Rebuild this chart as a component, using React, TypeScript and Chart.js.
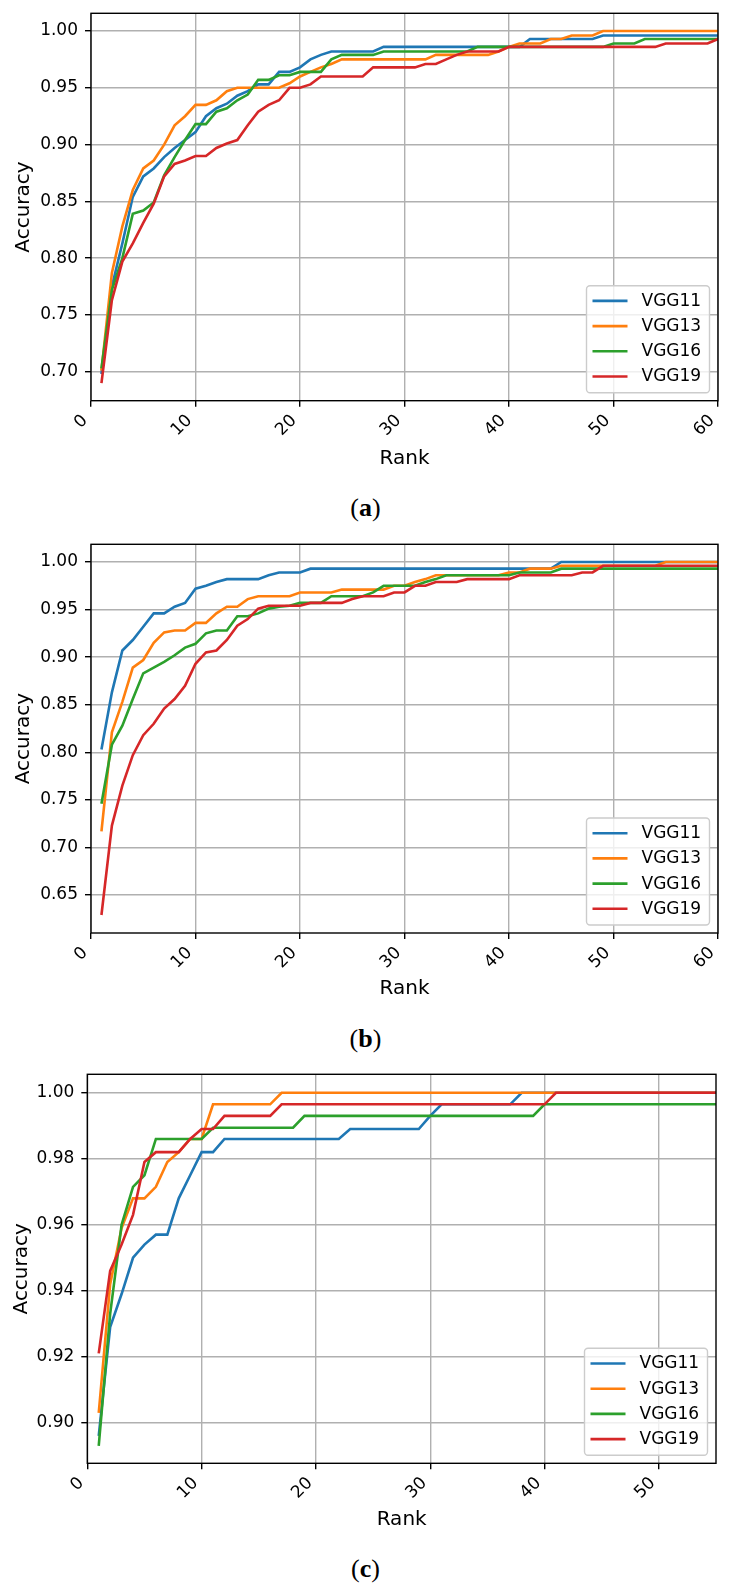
import React, { useEffect, useRef } from "react";
import { Chart, registerables } from "chart.js";

Chart.register(...registerables);

const FONT = "'DejaVu Sans', sans-serif";
const CANVAS_W = 731;
const CANVAS_H = 480;

const seriesNames = ["VGG11", "VGG13", "VGG16", "VGG19"];
const seriesColors = ["#1f77b4", "#ff7f0e", "#2ca02c", "#d62728"];

// ---------- ranks ----------
const ranks60 = [
  1, 2, 3, 4, 5, 6, 7, 8, 9, 10, 11, 12, 13, 14, 15, 16, 17, 18, 19, 20,
  21, 22, 23, 24, 25, 26, 27, 28, 29, 30, 31, 32, 33, 34, 35, 36, 37, 38, 39, 40,
  41, 42, 43, 44, 45, 46, 47, 48, 49, 50, 51, 52, 53, 54, 55, 56, 57, 58, 59, 60,
];
const ranks55 = [
  1, 2, 3, 4, 5, 6, 7, 8, 9, 10, 11, 12, 13, 14, 15, 16, 17, 18, 19, 20,
  21, 22, 23, 24, 25, 26, 27, 28, 29, 30, 31, 32, 33, 34, 35, 36, 37, 38, 39, 40,
  41, 42, 43, 44, 45, 46, 47, 48, 49, 50, 51, 52, 53, 54, 55,
];

// ---------- panel (a) ----------
const aVGG11 = [
  0.698, 0.775, 0.813, 0.854, 0.872, 0.879, 0.889, 0.897, 0.904, 0.911,
  0.925, 0.932, 0.936, 0.943, 0.947, 0.953, 0.953, 0.964, 0.964, 0.968,
  0.975, 0.979, 0.982, 0.982, 0.982, 0.982, 0.982, 0.986, 0.986, 0.986,
  0.986, 0.986, 0.986, 0.986, 0.986, 0.986, 0.986, 0.986, 0.986, 0.986,
  0.986, 0.993, 0.993, 0.993, 0.993, 0.993, 0.993, 0.993, 0.996, 0.996,
  0.996, 0.996, 0.996, 0.996, 0.996, 0.996, 0.996, 0.996, 0.996, 0.996,
];
const aVGG13 = [
  0.701, 0.787, 0.828, 0.860, 0.879, 0.886, 0.900, 0.917, 0.925, 0.935,
  0.935, 0.939, 0.947, 0.950, 0.950, 0.950, 0.950, 0.950, 0.954, 0.960,
  0.964, 0.968, 0.971, 0.975, 0.975, 0.975, 0.975, 0.975, 0.975, 0.975,
  0.975, 0.975, 0.979, 0.979, 0.979, 0.979, 0.979, 0.979, 0.982, 0.986,
  0.989, 0.989, 0.989, 0.993, 0.993, 0.996, 0.996, 0.996, 1.0, 1.0,
  1.0, 1.0, 1.0, 1.0, 1.0, 1.0, 1.0, 1.0, 1.0, 1.0,
];
const aVGG16 = [
  0.703, 0.772, 0.800, 0.839, 0.842, 0.849, 0.873, 0.889, 0.904, 0.918,
  0.918, 0.929, 0.932, 0.939, 0.944, 0.957, 0.957, 0.961, 0.961, 0.964,
  0.964, 0.964, 0.975, 0.979, 0.979, 0.979, 0.979, 0.982, 0.982, 0.982,
  0.982, 0.982, 0.982, 0.982, 0.982, 0.982, 0.986, 0.986, 0.986, 0.986,
  0.986, 0.986, 0.986, 0.986, 0.986, 0.986, 0.986, 0.986, 0.986, 0.989,
  0.989, 0.989, 0.993, 0.993, 0.993, 0.993, 0.993, 0.993, 0.993, 0.993,
];
const aVGG19 = [
  0.690, 0.763, 0.797, 0.813, 0.831, 0.848, 0.872, 0.883, 0.886, 0.890,
  0.890, 0.897, 0.901, 0.904, 0.917, 0.929, 0.935, 0.939, 0.950, 0.950,
  0.953, 0.960, 0.960, 0.960, 0.960, 0.960, 0.968, 0.968, 0.968, 0.968,
  0.968, 0.971, 0.971, 0.975, 0.979, 0.982, 0.982, 0.982, 0.982, 0.986,
  0.986, 0.986, 0.986, 0.986, 0.986, 0.986, 0.986, 0.986, 0.986, 0.986,
  0.986, 0.986, 0.986, 0.986, 0.989, 0.989, 0.989, 0.989, 0.989, 0.993,
];

// ---------- panel (b) ----------
const bVGG11 = [
  0.803, 0.863, 0.907, 0.918, 0.932, 0.946, 0.946, 0.953, 0.957, 0.972,
  0.975, 0.979, 0.982, 0.982, 0.982, 0.982, 0.986, 0.989, 0.989, 0.989,
  0.993, 0.993, 0.993, 0.993, 0.993, 0.993, 0.993, 0.993, 0.993, 0.993,
  0.993, 0.993, 0.993, 0.993, 0.993, 0.993, 0.993, 0.993, 0.993, 0.993,
  0.993, 0.993, 0.993, 0.993, 1.0, 1.0, 1.0, 1.0, 1.0, 1.0,
  1.0, 1.0, 1.0, 1.0, 1.0, 1.0, 1.0, 1.0, 1.0, 1.0,
];
const bVGG13 = [
  0.717, 0.821, 0.853, 0.889, 0.897, 0.915, 0.926, 0.928, 0.928, 0.936,
  0.936, 0.946, 0.953, 0.953, 0.961, 0.964, 0.964, 0.964, 0.964, 0.968,
  0.968, 0.968, 0.968, 0.971, 0.971, 0.971, 0.971, 0.971, 0.975, 0.975,
  0.979, 0.982, 0.986, 0.986, 0.986, 0.986, 0.986, 0.986, 0.986, 0.989,
  0.989, 0.993, 0.993, 0.993, 0.996, 0.996, 0.996, 0.996, 0.996, 0.996,
  0.996, 0.996, 0.996, 0.996, 1.0, 1.0, 1.0, 1.0, 1.0, 1.0,
];
const bVGG16 = [
  0.746, 0.808, 0.828, 0.856, 0.883, 0.889, 0.895, 0.902, 0.910, 0.914,
  0.925, 0.928, 0.928, 0.943, 0.943, 0.946, 0.951, 0.953, 0.954, 0.957,
  0.957, 0.957, 0.964, 0.964, 0.964, 0.964, 0.968, 0.975, 0.975, 0.975,
  0.975, 0.979, 0.982, 0.986, 0.986, 0.986, 0.986, 0.986, 0.986, 0.986,
  0.989, 0.989, 0.989, 0.989, 0.993, 0.993, 0.993, 0.993, 0.993, 0.993,
  0.993, 0.993, 0.993, 0.993, 0.993, 0.993, 0.993, 0.993, 0.993, 0.993,
];
const bVGG19 = [
  0.629, 0.723, 0.765, 0.797, 0.818, 0.830, 0.846, 0.856, 0.870, 0.893,
  0.905, 0.907, 0.918, 0.933, 0.940, 0.951, 0.954, 0.954, 0.954, 0.954,
  0.957, 0.957, 0.957, 0.957, 0.961, 0.964, 0.964, 0.964, 0.968, 0.968,
  0.975, 0.975, 0.979, 0.979, 0.979, 0.982, 0.982, 0.982, 0.982, 0.982,
  0.986, 0.986, 0.986, 0.986, 0.986, 0.986, 0.989, 0.989, 0.996, 0.996,
  0.996, 0.996, 0.996, 0.996, 0.996, 0.996, 0.996, 0.996, 0.996, 0.996,
];

// ---------- panel (c) ----------
const cVGG11 = [
  0.896, 0.929, 0.939, 0.950, 0.954, 0.957, 0.957, 0.968, 0.975, 0.982,
  0.982, 0.986, 0.986, 0.986, 0.986, 0.986, 0.986, 0.986, 0.986, 0.986,
  0.986, 0.986, 0.989, 0.989, 0.989, 0.989, 0.989, 0.989, 0.989, 0.993,
  0.9965, 0.9965, 0.9965, 0.9965, 0.9965, 0.9965, 0.9965, 1.0, 1.0, 1.0,
  1.0, 1.0, 1.0, 1.0, 1.0, 1.0, 1.0, 1.0, 1.0, 1.0,
  1.0, 1.0, 1.0, 1.0, 1.0,
];
const cVGG13 = [
  0.903, 0.942, 0.959, 0.968, 0.968, 0.9715, 0.979, 0.982, 0.986, 0.986,
  0.9965, 0.9965, 0.9965, 0.9965, 0.9965, 0.9965, 1.0, 1.0, 1.0, 1.0,
  1.0, 1.0, 1.0, 1.0, 1.0, 1.0, 1.0, 1.0, 1.0, 1.0,
  1.0, 1.0, 1.0, 1.0, 1.0, 1.0, 1.0, 1.0, 1.0, 1.0,
  1.0, 1.0, 1.0, 1.0, 1.0, 1.0, 1.0, 1.0, 1.0, 1.0,
  1.0, 1.0, 1.0, 1.0, 1.0,
];
const cVGG16 = [
  0.893, 0.933, 0.960, 0.9715, 0.975, 0.986, 0.986, 0.986, 0.986, 0.986,
  0.9894, 0.9894, 0.9894, 0.9894, 0.9894, 0.9894, 0.9894, 0.9894, 0.993, 0.993,
  0.993, 0.993, 0.993, 0.993, 0.993, 0.993, 0.993, 0.993, 0.993, 0.993,
  0.993, 0.993, 0.993, 0.993, 0.993, 0.993, 0.993, 0.993, 0.993, 0.9965,
  0.9965, 0.9965, 0.9965, 0.9965, 0.9965, 0.9965, 0.9965, 0.9965, 0.9965, 0.9965,
  0.9965, 0.9965, 0.9965, 0.9965, 0.9965,
];
const cVGG19 = [
  0.921, 0.946, 0.954, 0.963, 0.979, 0.982, 0.982, 0.982, 0.986, 0.989,
  0.989, 0.993, 0.993, 0.993, 0.993, 0.993, 0.9965, 0.9965, 0.9965, 0.9965,
  0.9965, 0.9965, 0.9965, 0.9965, 0.9965, 0.9965, 0.9965, 0.9965, 0.9965, 0.9965,
  0.9965, 0.9965, 0.9965, 0.9965, 0.9965, 0.9965, 0.9965, 0.9965, 0.9965, 0.9965,
  1.0, 1.0, 1.0, 1.0, 1.0, 1.0, 1.0, 1.0, 1.0, 1.0,
  1.0, 1.0, 1.0, 1.0, 1.0,
];

// ---------- tick labels ----------
const xTicks60 = [0, 10, 20, 30, 40, 50, 60];
const xTicks55 = [0, 10, 20, 30, 40, 50];
const yTicksA = [0.7, 0.75, 0.8, 0.85, 0.9, 0.95, 1.0];
const yTicksB = [0.65, 0.7, 0.75, 0.8, 0.85, 0.9, 0.95, 1.0];
const yTicksC = [0.9, 0.92, 0.94, 0.96, 0.98, 1.0];

type Panel = {
  ranks: number[];
  series: number[][];
  xTicks: number[];
  yTicks: number[];
  xMax: number;
  yMin: number;
  yMax: number;
  caption: string;
  // layout (page pixels)
  canvasTop: number;
  areaTop: number;
  areaBottom: number;
  areaLeft: number;
  areaRight: number;
  rankY: number;
  accX: number;
  captionY: number;
};

const panels: Panel[] = [
  {
    ranks: ranks60,
    series: [aVGG11, aVGG13, aVGG16, aVGG19],
    xTicks: xTicks60,
    yTicks: yTicksA,
    xMax: 60,
    yMin: 0.6745,
    yMax: 1.0156,
    caption: "a",
    canvasTop: 0,
    areaTop: 13.3,
    areaBottom: 400.7,
    areaLeft: 91,
    areaRight: 718,
    rankY: 458.3,
    accX: 23.5,
    captionY: 508,
  },
  {
    ranks: ranks60,
    series: [bVGG11, bVGG13, bVGG16, bVGG19],
    xTicks: xTicks60,
    yTicks: yTicksB,
    xMax: 60,
    yMin: 0.6101,
    yMax: 1.0186,
    caption: "b",
    canvasTop: 530.7,
    areaTop: 13.3,
    areaBottom: 402,
    areaLeft: 91,
    areaRight: 718,
    rankY: 457.6,
    accX: 23.5,
    captionY: 508,
  },
  {
    ranks: ranks55,
    series: [cVGG11, cVGG13, cVGG16, cVGG19],
    xTicks: xTicks55,
    yTicks: yTicksC,
    xMax: 55,
    yMin: 0.8877,
    yMax: 1.0056,
    caption: "c",
    canvasTop: 1061,
    areaTop: 13.3,
    areaBottom: 402.3,
    areaLeft: 87.3,
    areaRight: 716,
    rankY: 459,
    accX: 22,
    captionY: 508,
  },
];

const framePlugin = {
  id: "mplFrame",
  afterDatasetsDraw(chart: any) {
    const { ctx, chartArea: a } = chart;
    ctx.save();
    ctx.strokeStyle = "#000";
    ctx.lineWidth = 1.4;
    ctx.strokeRect(a.left, a.top, a.right - a.left, a.bottom - a.top);
    ctx.restore();
  },
};

const legendPlugin = {
  id: "mplLegend",
  afterDraw(chart: any) {
    const { ctx, chartArea: a } = chart;
    const w = 123;
    const h = 107;
    const x0 = a.right - 8.5 - w;
    const y0 = a.bottom - 8 - h;
    const r = 3.5;
    ctx.save();
    ctx.beginPath();
    ctx.moveTo(x0 + r, y0);
    ctx.lineTo(x0 + w - r, y0);
    ctx.arcTo(x0 + w, y0, x0 + w, y0 + r, r);
    ctx.lineTo(x0 + w, y0 + h - r);
    ctx.arcTo(x0 + w, y0 + h, x0 + w - r, y0 + h, r);
    ctx.lineTo(x0 + r, y0 + h);
    ctx.arcTo(x0, y0 + h, x0, y0 + h - r, r);
    ctx.lineTo(x0, y0 + r);
    ctx.arcTo(x0, y0, x0 + r, y0, r);
    ctx.closePath();
    ctx.fillStyle = "rgba(255,255,255,0.8)";
    ctx.fill();
    ctx.strokeStyle = "#cccccc";
    ctx.lineWidth = 1.4;
    ctx.stroke();

    chart.data.datasets.forEach((ds: any, i: number) => {
      const cy = y0 + 15.2 + i * 25.2;
      ctx.beginPath();
      ctx.strokeStyle = ds.borderColor;
      ctx.lineWidth = 2.6;
      ctx.moveTo(x0 + 6, cy);
      ctx.lineTo(x0 + 41, cy);
      ctx.stroke();
      ctx.fillStyle = "#000";
      ctx.font = `17px ${FONT}`;
      ctx.textAlign = "left";
      ctx.textBaseline = "middle";
      ctx.fillText(ds.label, x0 + 55, cy + 0.5);
    });
    ctx.restore();
  },
};

function PanelChart({ p }: { p: Panel }) {
  const ref = useRef<HTMLCanvasElement | null>(null);

  useEffect(() => {
    if (!ref.current) return;
    const gridOpts = {
      color: "#b0b0b0",
      lineWidth: 1.4,
      tickColor: "#000",
      tickLength: 6,
      tickWidth: 1.4,
      drawTicks: true,
    };
    const chart = new Chart(ref.current, {
      type: "line",
      data: {
        datasets: seriesNames.map((name, i) => ({
          label: name,
          data: p.ranks.map((r, j) => ({ x: r, y: p.series[i][j] })),
          borderColor: seriesColors[i],
          backgroundColor: seriesColors[i],
          borderWidth: 2.6,
          pointRadius: 0,
          pointHoverRadius: 0,
          tension: 0,
          fill: false,
          order: seriesNames.length - 1 - i,
        })),
      },
      options: {
        responsive: false,
        maintainAspectRatio: false,
        animation: false,
        events: [],
        layout: {
          padding: {
            top: p.areaTop,
            right: CANVAS_W - p.areaRight,
            left: 0,
            bottom: 0,
          },
        },
        plugins: {
          legend: { display: false },
          tooltip: { enabled: false },
          title: { display: false },
        },
        scales: {
          x: {
            type: "linear",
            min: 0,
            max: p.xMax,
            afterBuildTicks: (s: any) => {
              s.ticks = p.xTicks.map((v) => ({ value: v }));
            },
            afterFit: (s: any) => {
              s.height = CANVAS_H - p.areaBottom;
              s.paddingLeft = 0;
              s.paddingRight = 0;
            },
            ticks: {
              autoSkip: false,
              maxRotation: 45,
              minRotation: 45,
              padding: 4,
              labelOffset: -6,
              color: "#000",
              font: { size: 17, family: FONT },
              callback: (v: any) => String(v),
            },
            grid: gridOpts,
            border: { display: false },
            title: {
              display: true,
              text: "Rank",
              color: "#000",
              font: { size: 20, family: FONT, lineHeight: 1.2 },
              padding: { top: 0, bottom: CANVAS_H - 12 - p.rankY },
            },
          },
          y: {
            type: "linear",
            min: p.yMin,
            max: p.yMax,
            afterBuildTicks: (s: any) => {
              s.ticks = p.yTicks.map((v) => ({ value: v }));
            },
            afterFit: (s: any) => {
              s.width = p.areaLeft;
              s.paddingTop = 0;
              s.paddingBottom = 0;
            },
            ticks: {
              padding: 7,
              color: "#000",
              font: { size: 17, family: FONT },
              callback: (v: any) => Number(v).toFixed(2),
            },
            grid: gridOpts,
            border: { display: false },
            title: {
              display: true,
              text: "Accuracy",
              color: "#000",
              font: { size: 20, family: FONT, lineHeight: 1.2 },
              padding: { top: p.accX - 12, bottom: 0 },
            },
          },
        },
      },
      plugins: [framePlugin, legendPlugin],
    } as any);
    return () => chart.destroy();
  }, [p]);

  return (
    <>
      <canvas
        ref={ref}
        width={CANVAS_W}
        height={CANVAS_H}
        style={{
          position: "absolute",
          left: 0,
          top: p.canvasTop,
          width: CANVAS_W,
          height: CANVAS_H,
        }}
      />
      <div
        style={{
          position: "absolute",
          left: 0,
          width: CANVAS_W,
          top: p.canvasTop + p.captionY - 15,
          height: 30,
          lineHeight: "30px",
          textAlign: "center",
          fontFamily: "'Liberation Serif', serif",
          fontSize: 26,
          color: "#000",
        }}
      >
        (<b>{p.caption}</b>)
      </div>
    </>
  );
}

export default function App() {
  return (
    <div
      style={{
        position: "absolute",
        left: 0,
        top: 0,
        width: CANVAS_W,
        height: 1590,
        background: "#fff",
        overflow: "hidden",
      }}
    >
      {panels.map((p) => (
        <PanelChart key={p.caption} p={p} />
      ))}
    </div>
  );
}
